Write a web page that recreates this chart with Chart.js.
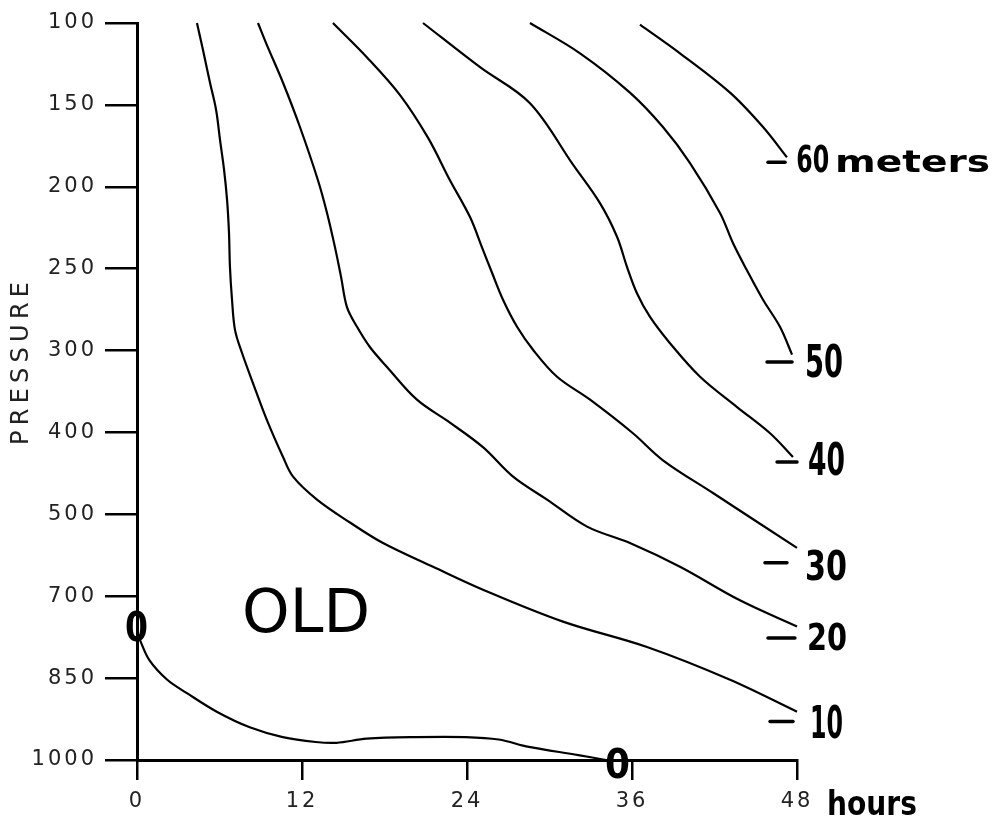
<!DOCTYPE html>
<html>
<head>
<meta charset="utf-8">
<script src="https://cdn.jsdelivr.net/npm/chart.js@4.4.1/dist/chart.umd.min.js"></script>
<style>
html,body{margin:0;padding:0;background:#fff;}
#wrap{width:997px;height:822px;position:relative;}
canvas{display:block;}
</style>
</head>
<body>
<div id="wrap"><canvas id="c" width="997" height="822"></canvas></div>
<script>
// ---- Data ----
// Pressure levels (evenly spaced on the vertical axis, 100 at the top)
const pressureLevels = [100, 150, 200, 250, 300, 400, 500, 700, 850, 1000];
// Time axis ticks (hours)
const hourTicks = [0, 12, 24, 36, 48];
// Contour names (meters)
const contourNames = ['0', '10', '20', '30', '40', '50', '60'];

// Each contour: hours and position on the pressure-level axis (0 = 100, 9 = 1000)
const c0Hours  = [0.2, 0.9, 2.2, 3.6, 5.8, 8.2, 10.6, 13.0, 14.5, 16.7, 20.3, 23.9, 26.3, 28.5, 32.1, 34.1];
const c0Level  = [7.53, 7.78, 8.02, 8.18, 8.41, 8.60, 8.72, 8.78, 8.79, 8.74, 8.72, 8.72, 8.75, 8.84, 8.94, 9.0];

const c10Hours = [4.36, 4.8, 5.31, 5.75, 6.04, 6.33, 6.55, 6.69, 6.76, 6.91, 7.13, 7.64, 8.44, 9.45, 10.62, 11.35, 13.09, 15.49, 17.89, 21.53, 25.16, 30.98, 37.09, 43.13, 48.0];
const c10Level = [0, 0.33, 0.73, 1.06, 1.43, 1.79, 2.16, 2.56, 2.98, 3.38, 3.75, 4.03, 4.40, 4.85, 5.30, 5.54, 5.82, 6.10, 6.35, 6.64, 6.92, 7.31, 7.62, 8.02, 8.41];

const c20Hours = [8.8, 9.45, 10.62, 11.85, 13.16, 13.82, 14.40, 14.84, 15.27, 16.0, 16.95, 18.18, 20.36, 22.76, 25.16, 27.35, 29.82, 32.73, 35.85, 39.49, 43.85, 48.0];
const c20Level = [0, 0.27, 0.73, 1.27, 1.92, 2.32, 2.74, 3.10, 3.47, 3.71, 3.96, 4.20, 4.60, 4.88, 5.18, 5.54, 5.82, 6.15, 6.35, 6.64, 7.05, 7.37];

const c30Hours = [14.25, 16.73, 19.13, 21.16, 22.76, 24.22, 25.09, 25.82, 26.62, 27.64, 28.8, 30.55, 32.95, 36.07, 38.25, 41.89, 48.0];
const c30Level = [0, 0.42, 0.88, 1.40, 1.92, 2.37, 2.74, 3.05, 3.38, 3.71, 3.99, 4.32, 4.60, 5.01, 5.34, 5.74, 6.41];

const c40Hours = [20.8, 24.95, 28.58, 31.71, 33.67, 34.91, 35.64, 36.36, 37.31, 38.76, 40.95, 43.64, 46.04, 47.71];
const c40Level = [0, 0.54, 0.98, 1.73, 2.20, 2.61, 2.98, 3.30, 3.59, 3.91, 4.32, 4.69, 5.01, 5.30];

const c50Hours = [28.58, 32.22, 35.85, 38.25, 40.22, 42.4, 43.35, 44.36, 45.53, 46.76, 47.64];
const c50Level = [0, 0.37, 0.85, 1.27, 1.71, 2.32, 2.69, 3.02, 3.38, 3.71, 4.05];

const c60Hours = [36.58, 39.49, 43.13, 45.53, 47.27];
const c60Level = [0.02, 0.37, 0.85, 1.27, 1.64];

const contourHours  = [c0Hours, c10Hours, c20Hours, c30Hours, c40Hours, c50Hours, c60Hours];
const contourLevels = [c0Level, c10Level, c20Level, c30Level, c40Level, c50Level, c60Level];

// ---- Annotations (text labels placed in data coordinates: hours, level) ----
const HAND = '"DejaVu Sans"';
const textNotes = [
  { t: '60',     h: 47.95, l: 1.82, w: 33,  size: 37, weight: 'bold' },
  { t: 'meters', h: 50.76, l: 1.82, w: 155, size: 31, weight: 'bold' },
  { t: '50',     h: 48.58, l: 4.32, w: 38,  size: 44, weight: 'bold' },
  { t: '40',     h: 48.8,  l: 5.52, w: 37,  size: 44, weight: 'bold' },
  { t: '30',     h: 48.58, l: 6.80, w: 42,  size: 41, weight: 'bold' },
  { t: '20',     h: 48.73, l: 7.66, w: 40,  size: 38, weight: 'bold' },
  { t: '10',     h: 48.95, l: 8.73, w: 33,  size: 45, weight: 'bold' },
  { t: 'hours',  h: 50.18, l: 9.67, w: 90,  size: 34, weight: 'bold' },
  { t: 'OLD',    h: 7.64,  l: 7.44, w: 128, size: 60, weight: 'normal' },
  { t: '0',      h: -0.87, l: 7.55, w: 23,  size: 41, weight: 'bold' },
  { t: '0',      h: 34.04, l: 9.22, w: 25,  size: 41, weight: 'bold' }
];
const dashNotes = [
  { h1: 45.89, h2: 47.13, l: 1.70 },
  { h1: 45.82, h2: 47.64, l: 4.14 },
  { h1: 46.55, h2: 48.0,  l: 5.36 },
  { h1: 45.67, h2: 47.27, l: 6.59 },
  { h1: 45.89, h2: 47.85, l: 7.51 },
  { h1: 46.04, h2: 47.71, l: 8.53 }
];

const datasets = contourNames.map((name, k) => ({
  label: name + ' m',
  data: contourHours[k].map((h, i) => ({ x: h, y: contourLevels[k][i] })),
  showLine: true,
  borderColor: '#000',
  borderWidth: 2.2,
  pointRadius: 0,
  tension: 0.35,
  fill: false,
  clip: false
}));

const spacingPlugin = {
  id: 'spacing',
  beforeDraw(chart) { chart.ctx.letterSpacing = '3px'; }
};

const notesPlugin = {
  id: 'notes',
  afterDraw(chart) {
    const ctx = chart.ctx, sx = chart.scales.x, sy = chart.scales.y;
    ctx.save();
    ctx.letterSpacing = '0px';
    ctx.fillStyle = '#000';
    ctx.strokeStyle = '#000';
    ctx.lineCap = 'round';
    ctx.lineWidth = 3.5;
    dashNotes.forEach(d => {
      const y = sy.getPixelForValue(d.l);
      ctx.beginPath();
      ctx.moveTo(sx.getPixelForValue(d.h1), y);
      ctx.lineTo(sx.getPixelForValue(d.h2), y);
      ctx.stroke();
    });
    textNotes.forEach(n => {
      ctx.save();
      ctx.font = `${n.weight} ${n.size}px ${HAND}`;
      ctx.textAlign = 'left';
      ctx.textBaseline = 'alphabetic';
      const m = ctx.measureText(n.t).width;
      ctx.translate(sx.getPixelForValue(n.h), sy.getPixelForValue(n.l));
      ctx.scale(n.w / m, 1);
      ctx.fillText(n.t, 0, 0);
      ctx.restore();
    });
    // axis title
    ctx.save();
    ctx.font = `normal 24px "DejaVu Sans"`;
    const title = 'PRESSURE';
    const tw = ctx.measureText(title).width;
    const sp = (163 - tw) / (title.length - 1);
    ctx.letterSpacing = sp + 'px';
    const cy = (chart.chartArea.top + chart.chartArea.bottom) / 2 - 28;
    ctx.translate(chart.chartArea.left - 115, cy);
    ctx.rotate(-Math.PI / 2);
    ctx.textAlign = 'left';
    ctx.textBaseline = 'middle';
    ctx.fillStyle = '#222';
    ctx.fillText(title, -163 / 2, 0);
    ctx.restore();
    ctx.restore();
  }
};

const axisFont = { family: 'DejaVu Sans', size: 21, weight: 'normal' };

new Chart(document.getElementById('c'), {
  type: 'scatter',
  data: { datasets },
  options: {
    responsive: false,
    animation: false,
    devicePixelRatio: 1,
    layout: { padding: { top: 23, right: 200, left: 0, bottom: 0 } },
    plugins: { legend: { display: false }, tooltip: { enabled: false } },
    scales: {
      x: {
        type: 'linear', min: 0, max: 48,
        afterBuildTicks: s => { s.ticks = hourTicks.map(v => ({ value: v })); },
        afterFit: s => { s.height = 62; },
        grid: { drawOnChartArea: false, drawTicks: true, tickLength: 20, color: '#000', lineWidth: 2.5 },
        border: { display: true, color: '#000', width: 3 },
        ticks: { color: '#222', font: axisFont, padding: 9, maxRotation: 0, autoSkip: false, callback: v => String(v) }
      },
      y: {
        type: 'linear', min: 0, max: 9, reverse: true,
        afterBuildTicks: s => { s.ticks = pressureLevels.map((p, i) => ({ value: i })); },
        afterFit: s => { s.width = 137; },
        grid: { drawOnChartArea: false, drawTicks: true, tickLength: 32, color: '#000', lineWidth: 2.5 },
        border: { display: true, color: '#000', width: 3 },
        ticks: { color: '#222', font: axisFont, padding: 8, autoSkip: false, callback: v => String(pressureLevels[v]) }
      }
    }
  },
  plugins: [spacingPlugin, notesPlugin]
});
</script>
</body>
</html>
